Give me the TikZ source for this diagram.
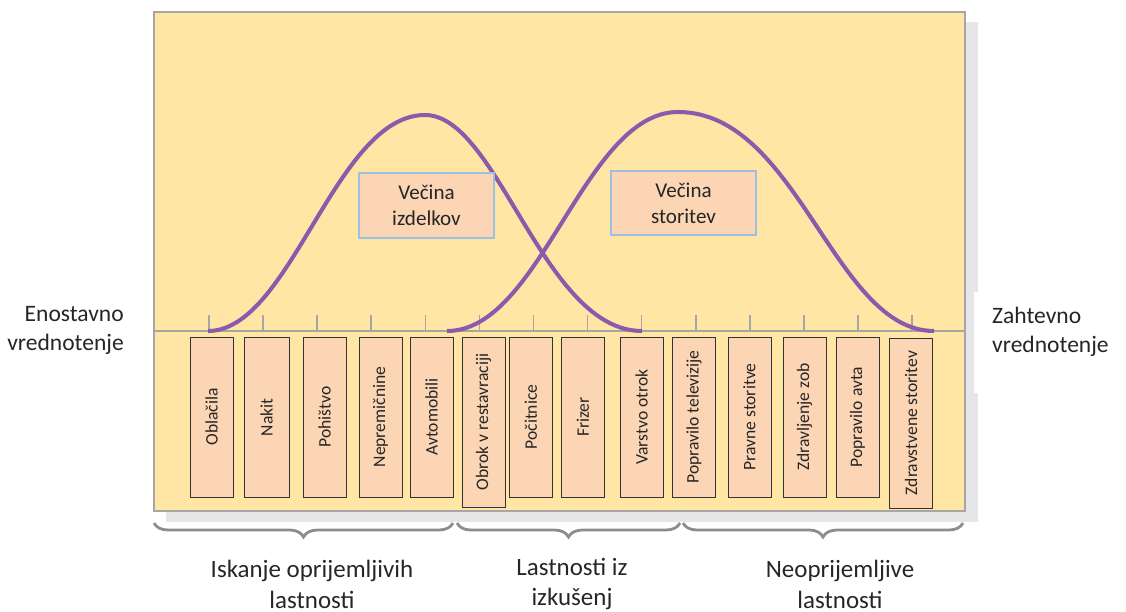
\documentclass[tikz,border=0pt]{standalone}
\usepackage{fontspec}
\setmainfont{Carlito}
\usetikzlibrary{decorations.pathreplacing}

\definecolor{panel}{HTML}{FFE6A5}
\definecolor{peach}{HTML}{FCD5B5}
\definecolor{shadowgray}{HTML}{E6E6E8}
\definecolor{rim}{HTML}{A6A6A6}
\definecolor{bellpurple}{HTML}{8A5AAB}
\definecolor{blueline}{HTML}{9DBFE0}
\definecolor{ink}{HTML}{262626}

\tikzset{
	itembox/.style = {draw = black!80, fill = peach, rotate = 90, minimum width = 3.2cm, minimum height = 0.86cm, inner sep = 0pt, text = ink, font = \fontsize{10}{11}\selectfont},
	majority/.style = {fill = peach, draw = blueline, line width = 0.8pt, align = center, text = ink, font = \fontsize{12}{15}\selectfont},
	endtext/.style = {text = ink, font = \fontsize{13.4}{16.5}\selectfont},
	grouptext/.style = {align = center, text = ink, font = \fontsize{14.2}{17.6}\selectfont},
	bell/.style = {bellpurple, line width = 2.3pt},
	bracket/.style = {decorate, decoration = {brace, amplitude = 0.28cm, mirror}, rim!85!black, line width = 1.6pt}
}

\begin{document}
\begin{tikzpicture}[x = 0.02cm, y = -0.02cm]

	\useasboundingbox (0, 0) rectangle (1126, 612);

	% Panel with its shadow

	\fill [shadowgray] (166, 22) rectangle (978, 522);
	\filldraw [fill = panel, draw = rim, line width = 1.1pt] (154, 12) rectangle (965, 511);
	\fill [white] (974, 292) rectangle (1126, 393);

	% Scale line and ticks

	\draw [rim, line width = 0.9pt] (154, 331) -- (965, 331);
	\foreach \t in {0, ..., 13}
		\draw [rim, line width = 0.9pt] ({209 + 54.08*\t}, 315) -- ({209 + 54.08*\t}, 331);

	% Two bell curves

	\draw [bell] (208, 331) .. controls (291, 331) and (335, 115) .. (425, 115)
		.. controls (498, 115) and (543, 331) .. (642, 331);
	\draw [bell] (447, 331) .. controls (541, 331) and (584, 112) .. (678, 112)
		.. controls (798, 112) and (834, 331) .. (934, 331);

	\node [majority, minimum width = 2.7cm, minimum height = 1.3cm] (izdelki) at (426.5, 205.5) {Večina\\izdelkov};
	\node [majority, minimum width = 2.9cm, minimum height = 1.28cm] (storitve) at (683.5, 203) {Večina\\storitev};

	% Products and services along the scale

	\node [itembox] (oblacila) at (211.5, 417) {Oblačila};
	\node [itembox, minimum height = 0.9cm] (nakit) at (266.5, 417.5) {Nakit};
	\node [itembox] (pohistvo) at (324.5, 417) {Pohištvo};
	\node [itembox] (nepremicnine) at (380.5, 417) {Nepremičnine};
	\node [itembox] (avtomobili) at (431.5, 417) {Avtomobili};
	\node [itembox, minimum width = 3.4cm] (obrok) at (483.5, 422) {Obrok v restavraciji};
	\node [itembox] (pocitnice) at (531, 417) {Počitnice};
	\node [itembox] (frizer) at (583, 417) {Frizer};
	\node [itembox] (varstvo) at (641.5, 417) {Varstvo otrok};
	\node [itembox] (televizija) at (694, 417) {Popravilo televizije};
	\node [itembox] (pravne) at (749.5, 417) {Pravne storitve};
	\node [itembox] (zobje) at (804.5, 417) {Zdravljenje zob};
	\node [itembox] (avto) at (857.5, 417) {Popravilo avta};
	\node [itembox, minimum width = 3.4cm] (zdravstvo) at (911, 423) {Zdravstvene storitev};

	% Ends of the scale

	\node [endtext, align = right, anchor = east] (enostavno) at (130, 330) {Enostavno\\vrednotenje};
	\node [endtext, align = left, anchor = west] (zahtevno) at (986, 332) {Zahtevno\\vrednotenje};

	% Groups under the panel

	\coordinate (g0) at (154, 523);
	\coordinate (g1) at (453, 523);
	\coordinate (g2) at (457, 523);
	\coordinate (g3) at (680, 523);
	\coordinate (g4) at (683, 523);
	\coordinate (g5) at (963, 523);

	\draw [bracket] (g0) -- (g1);
	\draw [bracket] (g2) -- (g3);
	\draw [bracket] (g4) -- (g5);

	\node [grouptext] (iskanje) at (312, 584) {Iskanje oprijemljivih\\lastnosti};
	\node [grouptext] (izkusnje) at (572, 584) {Lastnosti iz\\izkušenj};
	\node [grouptext] (neoprijemljive) at (840, 584) {Neoprijemljive\\lastnosti};

\end{tikzpicture}
\end{document}
